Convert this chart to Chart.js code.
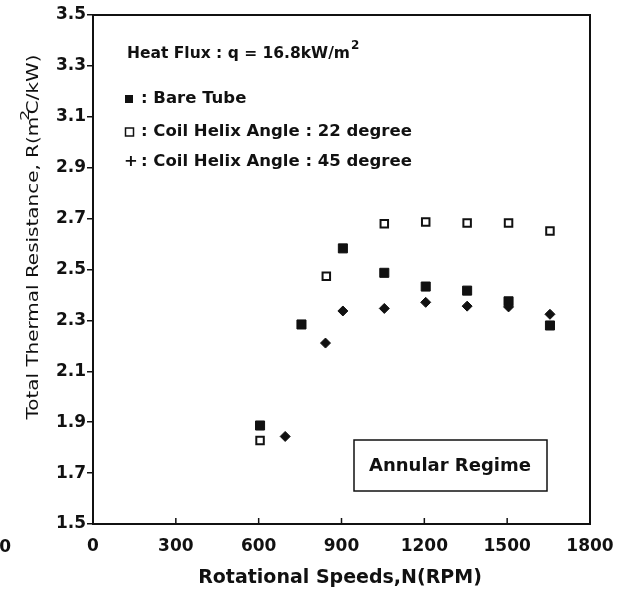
<!DOCTYPE html>
<html>
<head>
<meta charset="utf-8">
<script src="https://cdn.jsdelivr.net/npm/chart.js@4/dist/chart.umd.min.js"></script>
<style>
  body { margin: 0; background: #fff; }
  canvas { display: block; }
</style>
</head>
<body>
<canvas id="rChart" width="622" height="593"></canvas>
<script>
// Total thermal resistance vs rotational speed, q = 16.8 kW/m2

// bare tube (filled squares)
const bareRpm = [605, 755, 905, 1055, 1205, 1355, 1505, 1655];
const bareR   = [1.887, 2.284, 2.583, 2.487, 2.433, 2.417, 2.375, 2.28];

// coil helix angle 22 degree (open squares)
const coil22Rpm = [605, 845, 1055, 1205, 1355, 1505, 1655];
const coil22R   = [1.828, 2.473, 2.68, 2.687, 2.683, 2.683, 2.651];

// coil helix angle 45 degree (drawn as diamonds)
const coil45Rpm = [696, 842, 905, 1055, 1205, 1355, 1505, 1655];
const coil45R   = [1.844, 2.211, 2.337, 2.347, 2.371, 2.356, 2.353, 2.324];

const xTicks = [0, 300, 600, 900, 1200, 1500, 1800];
const yTicks = [1.5, 1.7, 1.9, 2.1, 2.3, 2.5, 2.7, 2.9, 3.1, 3.3, 3.5];

const FONT = "'DejaVu Sans', 'Liberation Sans', sans-serif";
const INK = '#111';

function toPoints(xs, ys) {
    return xs.map((x, i) => ({ x: x, y: ys[i] }));
}

// frame, inward x ticks, legend text, titles and the "Annular Regime" box
const extrasPlugin = {
    id: 'extras',
    afterDraw(chart) {
        const ctx = chart.ctx;
        const a = chart.chartArea;
        const xs = chart.scales.x;
        ctx.save();
        ctx.strokeStyle = INK;
        ctx.fillStyle = INK;
        ctx.lineWidth = 2;
        ctx.strokeRect(a.left, a.top, a.right - a.left, a.bottom - a.top);

        // x ticks point up into the plot
        ctx.lineWidth = 1.5;
        xTicks.forEach(v => {
            const px = xs.getPixelForValue(v);
            ctx.beginPath();
            ctx.moveTo(px, a.bottom);
            ctx.lineTo(px, a.bottom - 6);
            ctx.stroke();
        });

        // legend block
        ctx.textBaseline = 'middle';
        ctx.textAlign = 'left';
        ctx.font = 'bold 15.5px ' + FONT;
        const heat = 'Heat Flux : q = 16.8kW/m';
        ctx.fillText(heat, 127, 54);
        const hw = ctx.measureText(heat).width;
        ctx.font = 'bold 12px ' + FONT;
        ctx.fillText('2', 127 + hw + 1, 46);

        ctx.font = 'bold 16.5px ' + FONT;
        ctx.fillRect(125, 95, 8, 8);
        ctx.fillText(': Bare Tube', 141, 99);
        ctx.lineWidth = 1.5;
        ctx.strokeRect(125.5, 128, 8, 8);
        ctx.fillText(': Coil Helix Angle : 22 degree', 141, 132);
        ctx.fillText('+', 124, 162);
        ctx.fillText(': Coil Helix Angle : 45 degree', 141, 162);

        // annotation box
        ctx.lineWidth = 1.5;
        ctx.strokeRect(354, 440, 193, 51);
        ctx.textAlign = 'center';
        ctx.font = 'bold 18px ' + FONT;
        ctx.fillText('Annular Regime', 450, 466);

        // x axis title
        ctx.font = 'bold 19px ' + FONT;
        ctx.fillText('Rotational Speeds,N(RPM)', 340, 578);

        // y axis title (stretched along its length like the scan)
        ctx.save();
        ctx.translate(34, 237);
        ctx.rotate(-Math.PI / 2);
        ctx.scale(1.33, 1);
        ctx.font = '15px ' + FONT;
        ctx.textAlign = 'left';
        const t1 = 'Total Thermal Resistance, R(m';
        const t2 = 'C/kW)';
        const w1 = ctx.measureText(t1).width;
        const w2 = ctx.measureText(t2).width;
        const total = w1 + w2 + 2;
        ctx.fillText(t1, -total / 2, 0);
        ctx.fillText(t2, -total / 2 + w1 + 2, 0);
        ctx.font = '13px ' + FONT;
        ctx.fillText('2', -total / 2 + w1 - 3, -8);
        ctx.restore();

        // stray tick label left over from the neighbouring panel
        ctx.font = 'bold 17px ' + FONT;
        ctx.textAlign = 'right';
        ctx.fillText('0', 11, 548);
        ctx.restore();
    }
};

const ctx = document.getElementById('rChart').getContext('2d');
new Chart(ctx, {
    type: 'scatter',
    data: {
        datasets: [
            {
                label: 'Coil Helix Angle : 45 degree',
                data: toPoints(coil45Rpm, coil45R),
                pointStyle: 'rectRot',
                pointRadius: 5,
                backgroundColor: INK,
                borderColor: INK,
                borderWidth: 1
            },
            {
                label: 'Bare Tube',
                data: toPoints(bareRpm, bareR),
                pointStyle: 'rect',
                pointRadius: 6.4,
                backgroundColor: INK,
                borderColor: INK,
                borderWidth: 1
            },
            {
                label: 'Coil Helix Angle : 22 degree',
                data: toPoints(coil22Rpm, coil22R),
                pointStyle: 'rect',
                pointRadius: 5.3,
                backgroundColor: '#fff',
                borderColor: INK,
                borderWidth: 2
            }
        ]
    },
    options: {
        responsive: false,
        animation: false,
        layout: { padding: { top: 15, right: 32, left: 0, bottom: 0 } },
        plugins: {
            legend: { display: false },
            tooltip: { enabled: false }
        },
        scales: {
            x: {
                type: 'linear',
                min: 0,
                max: 1800,
                afterFit: s => { s.height = 69; s.paddingLeft = 0; s.paddingRight = 0; },
                afterBuildTicks: s => { s.ticks = xTicks.map(v => ({ value: v })); },
                grid: { display: false, drawTicks: false },
                border: { display: false },
                ticks: {
                    color: INK,
                    padding: 12,
                    maxRotation: 0,
                    font: { family: FONT, size: 17, weight: 'bold' },
                    callback: v => String(v)
                }
            },
            y: {
                type: 'linear',
                min: 1.5,
                max: 3.5,
                afterFit: s => { s.width = 93; s.paddingTop = 0; s.paddingBottom = 0; },
                afterBuildTicks: s => { s.ticks = yTicks.map(v => ({ value: v })); },
                grid: {
                    drawOnChartArea: false,
                    drawTicks: true,
                    tickLength: 6,
                    color: INK,
                    lineWidth: 1.5
                },
                border: { display: true, color: INK, width: 2 },
                ticks: {
                    color: INK,
                    padding: 1,
                    font: { family: FONT, size: 17, weight: 'bold' },
                    callback: v => Number(v).toFixed(1)
                }
            }
        }
    },
    plugins: [extrasPlugin]
});
</script>
</body>
</html>
